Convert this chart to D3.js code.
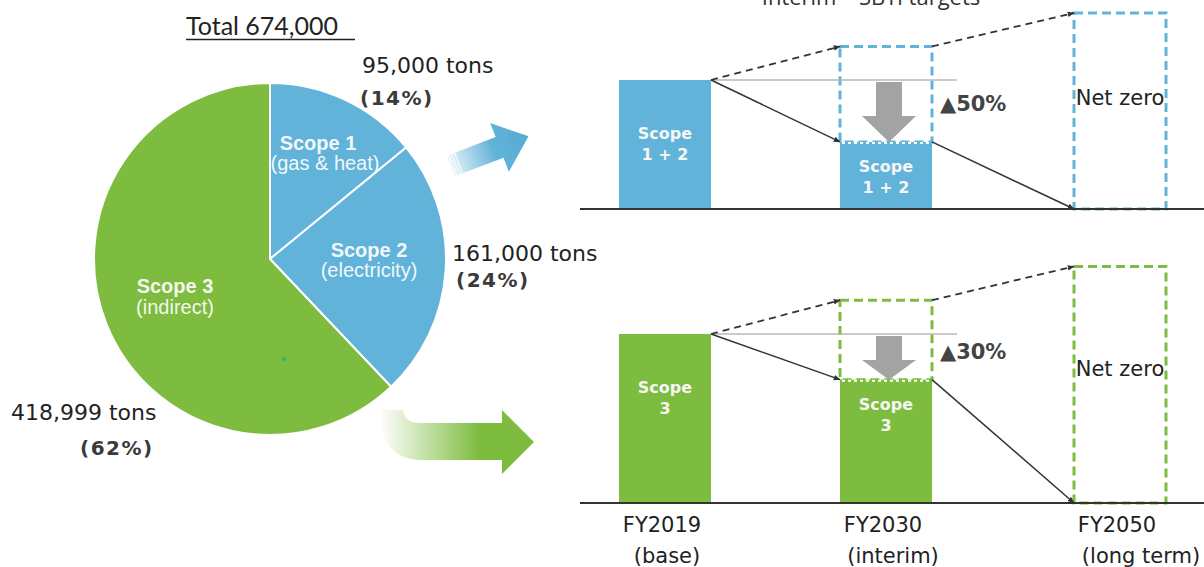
<!DOCTYPE html>
<html><head><meta charset="utf-8">
<script src="https://cdn.jsdelivr.net/npm/d3@7"></script>
<style>html,body{margin:0;padding:0;background:#fff;overflow:hidden}svg{display:block}</style>
</head><body>
<svg id="chart" width="1204" height="567"></svg>
<script>
// ---------------- data ----------------
const pieLabels = ["Scope 1", "Scope 2", "Scope 3"];
const pieSubLabels = ["(gas & heat)", "(electricity)", "(indirect)"];
const pieValues = [95000, 161000, 418999];
const pieValueLabels = ["95,000 tons", "161,000 tons", "418,999 tons"];
const piePctLabels = ["(14%)", "(24%)", "(62%)"];
const totalLabel = "Total 674,000";
const topTitle = "Interim – SBTi targets";

const categories = ["FY2019", "FY2030", "FY2050"];
const periodLabels = ["(base)", "(interim)", "(long term)"];
const scope12Actual = [100, 52, 0];
const scope12Projected = [null, 126, 152];
const scope3Actual = [100, 73, 0];
const scope3Projected = [null, 120, 140];
const barLabels = [["Scope", "1 + 2"], ["Scope", "3"]];
const reductionLabels = ["▲50%", "▲30%"];
const netZeroLabel = "Net zero";

// ---------------- layout ----------------
const BLUE = "#62b3d9", GREEN = "#7dbc3f";
const svg = d3.select("#chart");
const defs = svg.append("defs");
const SANS = "'DejaVu Sans', Verdana, sans-serif";
const NARROW = "'Liberation Sans Narrow', 'Liberation Sans', Arial, sans-serif";

// title (cut at top)
svg.append("text").attr("x", 871).attr("y", 5).attr("text-anchor", "middle")
  .attr("font-family", "'Open Sans', sans-serif").attr("font-size", 22).attr("fill", "#333")
  .text(topTitle);

// ---------------- pie ----------------
const cx = 270, cy = 259, R = 176;
const pieGen = d3.pie().sort(null).value(d => d);
const arcs = pieGen(pieValues);
const arcGen = d3.arc().innerRadius(0).outerRadius(R);
const pieColors = d3.scaleOrdinal().domain(pieLabels).range([BLUE, BLUE, GREEN]);
const gPie = svg.append("g").attr("transform", `translate(${cx},${cy})`);
gPie.selectAll("path").data(arcs).join("path")
  .attr("d", arcGen).attr("fill", (d, i) => pieColors(pieLabels[i]))
  .attr("stroke", "#fff").attr("stroke-width", 2);
// small dot
gPie.append("circle").attr("cx", 14).attr("cy", 100).attr("r", 2.2).attr("fill", "#2fb47a");

const innerPos = [[48, -115], [99, -8], [-95, 28]];
const innerSubDy = [20, 20, 21];
arcs.forEach((a, i) => {
  const [x, y] = innerPos[i];
  gPie.append("text").attr("x", x).attr("y", y + 6).attr("text-anchor", "middle")
    .attr("font-family", NARROW).attr("font-weight", "bold").attr("font-size", 20)
    .attr("fill", "#fff").attr("fill-opacity", 0.93).text(pieLabels[i]);
  gPie.append("text").attr("x", x + (i === 0 ? 7 : 0)).attr("y", y + 6 + innerSubDy[i]).attr("text-anchor", "middle")
    .attr("font-family", NARROW).attr("font-size", 20)
    .attr("fill", "#fff").attr("fill-opacity", 0.93).text(pieSubLabels[i]);
});

// total label
svg.append("text").attr("x", 186).attr("y", 35).attr("font-family", "Lato, sans-serif")
  .attr("font-size", 25).attr("fill", "#222").text(totalLabel);
svg.append("line").attr("x1", 186).attr("x2", 355).attr("y1", 39.5).attr("y2", 39.5)
  .attr("stroke", "#222").attr("stroke-width", 1.5);

// outer value labels
const valPos = [[362, 73], [452, 261], [11, 420]];
const pctPos = [[360, 105], [456, 287], [80, 455]];
pieValueLabels.forEach((t, i) => {
  svg.append("text").attr("x", valPos[i][0]).attr("y", valPos[i][1])
    .attr("font-family", SANS).attr("font-size", 22).attr("fill", "#222").text(t);
  svg.append("text").attr("x", pctPos[i][0]).attr("y", pctPos[i][1])
    .attr("font-family", SANS).attr("font-weight", "bold").attr("font-size", 20)
    .attr("letter-spacing", 1.5).attr("fill", "#3a3a3a").text(piePctLabels[i]);
});

// ---------------- connecting arrows ----------------
const gb = defs.append("linearGradient").attr("id", "gBlue").attr("x1", 0).attr("x2", 1).attr("y1", 0).attr("y2", 0);
gb.append("stop").attr("offset", "0%").attr("stop-color", BLUE).attr("stop-opacity", 0.15);
gb.append("stop").attr("offset", "55%").attr("stop-color", BLUE).attr("stop-opacity", 1);
gb.append("stop").attr("offset", "100%").attr("stop-color", "#55abd3");
const gBlueArrow = svg.append("g").attr("transform", "translate(451,166) rotate(-21)");
gBlueArrow.append("path").attr("d", "M0,-11 L52,-11 L52,-26 L83,0 L52,26 L52,11 L0,11 Z").attr("fill", "url(#gBlue)");
[2, 5, 8].forEach(x => gBlueArrow.append("line").attr("x1", x).attr("x2", x).attr("y1", -11).attr("y2", 11)
  .attr("stroke", "#fff").attr("stroke-width", 1));

const gg = defs.append("linearGradient").attr("id", "gGreen").attr("gradientUnits", "userSpaceOnUse")
  .attr("x1", 385).attr("x2", 480).attr("y1", 0).attr("y2", 0);
gg.append("stop").attr("offset", "0%").attr("stop-color", GREEN).attr("stop-opacity", 0.05);
gg.append("stop").attr("offset", "100%").attr("stop-color", GREEN).attr("stop-opacity", 1);
svg.append("path")
  .attr("d", "M383,410 L403,410 Q405,423 420,423 L502,423 L502,410 L534,442 L502,474 L502,460 L418,460 Q387,458 383,428 Z")
  .attr("fill", "url(#gGreen)");

// ---------------- right panels ----------------
const xPos = d3.scaleOrdinal().domain(categories).range([665, 886, 1120]);
const BW = 92;
const panels = [
  { actual: scope12Actual, proj: scope12Projected, color: BLUE, base: 209, top100: 80, label: barLabels[0], red: reductionLabels[0] },
  { actual: scope3Actual, proj: scope3Projected, color: GREEN, base: 503, top100: 334, label: barLabels[1], red: reductionLabels[1] }
];

defs.append("marker").attr("id", "ah").attr("viewBox", "0 0 10 10").attr("refX", 9).attr("refY", 5)
  .attr("markerWidth", 7).attr("markerHeight", 7).attr("markerUnits", "userSpaceOnUse").attr("orient", "auto")
  .append("path").attr("d", "M0,1 L10,5 L0,9 Z").attr("fill", "#333");

panels.forEach(p => {
  const y = d3.scaleLinear().domain([0, 100]).range([p.base, p.top100]);
  const g = svg.append("g");
  const xl = c => xPos(c) - BW / 2, xr = c => xPos(c) + BW / 2;

  // projected dashed boxes
  categories.forEach((c, i) => {
    if (p.proj[i] == null) return;
    const yTop = y(p.proj[i]), yBot = y(p.actual[i]);
    g.append("rect").attr("x", xl(c)).attr("y", yTop).attr("width", BW).attr("height", yBot - yTop)
      .attr("fill", "none").attr("stroke", p.color).attr("stroke-width", 3).attr("stroke-dasharray", "9,5");
  });
  // actual bars
  categories.forEach((c, i) => {
    if (!p.actual[i]) return;
    g.append("rect").attr("x", xl(c)).attr("y", y(p.actual[i])).attr("width", BW).attr("height", p.base - y(p.actual[i]))
      .attr("fill", p.color);
    g.append("text").attr("x", xPos(c)).attr("text-anchor", "middle").attr("font-family", SANS)
      .attr("font-weight", "bold").attr("font-size", 16).attr("fill", "#f6f6f6")
      .selectAll("tspan").data(p.label).join("tspan")
      .attr("x", xPos(c)).attr("y", (d, k) => (i === 0 ? y(p.actual[i]) + 59 : y(p.actual[i]) + 30) + k * 21)
      .text(d => d);
    if (i === 1) {
      g.append("line").attr("x1", xl(c) + 2).attr("x2", xr(c) - 2).attr("y1", y(p.actual[i]) + 1).attr("y2", y(p.actual[i]) + 1)
        .attr("stroke", "#fff").attr("stroke-width", 2).attr("stroke-dasharray", "3,3");
    }
  });
  // gray reference line
  g.append("line").attr("x1", xr(categories[0])).attr("x2", xr(categories[1]) + 25)
    .attr("y1", y(100)).attr("y2", y(100)).attr("stroke", "#b8b8b8").attr("stroke-width", 1.5);
  // gray down arrow
  const ax = xPos(categories[1]) + 3, ay0 = y(100) + 2, ay1 = y(p.actual[1]);
  const hh = Math.min(26, (ay1 - ay0) * 0.45);
  g.append("path").attr("d", `M${ax - 13},${ay0} L${ax + 13},${ay0} L${ax + 13},${ay1 - hh} L${ax + 27},${ay1 - hh} L${ax},${ay1} L${ax - 27},${ay1 - hh} L${ax - 13},${ay1 - hh} Z`)
    .attr("fill", "#a3a3a3");
  // reduction label
  g.append("text").attr("x", xr(categories[1]) + 8).attr("y", y(100) + 0.37 * (ay1 - y(100)) + 8)
    .attr("font-family", SANS).attr("font-weight", "bold").attr("font-size", 21).attr("fill", "#444").text(p.red);
  // trend arrows
  const c0 = categories[0], c1 = categories[1], c2 = categories[2];
  const dashed = [[xr(c0), y(100), xl(c1), y(p.proj[1])], [xr(c1), y(p.proj[1]), xl(c2), y(p.proj[2])]];
  const solid = [[xr(c0), y(100), xl(c1), y(p.actual[1])], [xr(c1), y(p.actual[1]), xl(c2), y(p.actual[2])]];
  dashed.forEach(s => g.append("line").attr("x1", s[0]).attr("y1", s[1]).attr("x2", s[2]).attr("y2", s[3])
    .attr("stroke", "#333").attr("stroke-width", 1.8).attr("stroke-dasharray", "7,5").attr("marker-end", "url(#ah)"));
  solid.forEach(s => g.append("line").attr("x1", s[0]).attr("y1", s[1]).attr("x2", s[2]).attr("y2", s[3])
    .attr("stroke", "#333").attr("stroke-width", 1.5).attr("marker-end", "url(#ah)"));
  // net zero label
  const yt = y(p.proj[2]);
  g.append("text").attr("x", xPos(c2)).attr("y", yt + 0.43 * (p.base - yt) + 8).attr("text-anchor", "middle")
    .attr("font-family", SANS).attr("font-size", 21).attr("fill", "#222").text(netZeroLabel);
  // baseline
  g.append("line").attr("x1", 580).attr("x2", 1204).attr("y1", p.base).attr("y2", p.base)
    .attr("stroke", "#333").attr("stroke-width", 2);
});

// x labels
const labelShift = [2, 7, 21];
categories.forEach((c, i) => {
  svg.append("text").attr("x", xPos(c) - 3).attr("y", 532).attr("text-anchor", "middle")
    .attr("font-family", SANS).attr("font-size", 21).attr("fill", "#222").text(c);
  svg.append("text").attr("x", xPos(c) + labelShift[i]).attr("y", 563).attr("text-anchor", "middle")
    .attr("font-family", SANS).attr("font-size", 21).attr("fill", "#222").text(periodLabels[i]);
});
</script>
</body></html>
